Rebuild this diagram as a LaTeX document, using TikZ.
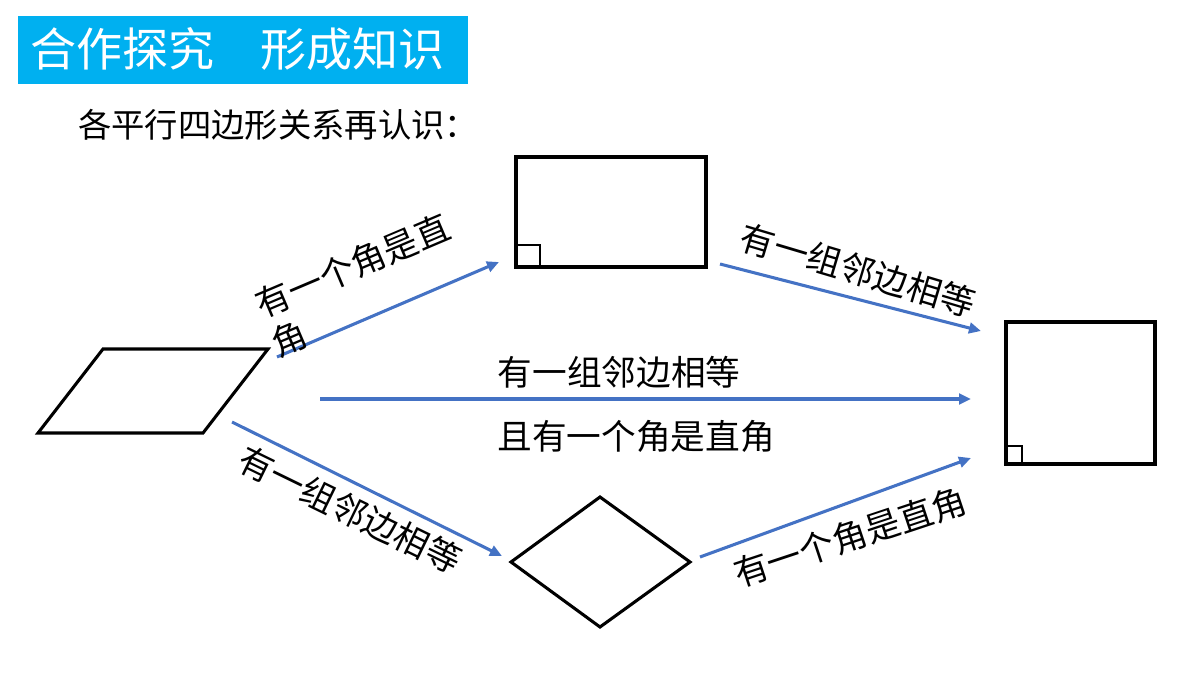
\documentclass[tikz,border=0pt]{standalone}
\usepackage{fontspec}
\setmainfont{Noto Sans CJK SC}
\usetikzlibrary{arrows.meta}
\definecolor{titleblue}{HTML}{00B0F0}
\definecolor{arrowblue}{HTML}{4472C4}
\begin{document}
\begin{tikzpicture}[x=0.75pt,y=-0.75pt,
  figthick/.style={draw=black,line width=3pt},
  figmid/.style={draw=black,line width=2.3pt,line join=miter},
  rmarkthin/.style={draw=black,line width=1.1pt},
  rmarkthick/.style={draw=black,line width=2pt},
  flow/.style={draw=arrowblue,line width=2.3pt,-{Triangle[length=9pt,width=8pt]}},
  lbl/.style={inner sep=0pt,font=\fontsize{26}{31.5}\selectfont}]
\useasboundingbox (0,0) rectangle (1200,675);
% title
\fill[titleblue] (18,16) rectangle (468,84);
\node[anchor=west,inner sep=0pt,text=white,font=\fontsize{34.5}{40}\selectfont] (title) at (30,49) {合作探究　形成知识};
\node[anchor=west,inner sep=0pt,font=\fontsize{25}{30}\selectfont] (sub) at (78,125) {各平行四边形关系再认识：};
% shapes
\draw[figmid] (38,433) -- (103,349) -- (268,349) -- (203,433) -- cycle;
\draw[figthick] (516,157) rectangle (706,267);
\draw[rmarkthin] (517,245) -- (540,245) -- (540,267);
\draw[figthick] (1006,322) rectangle (1155,464);
\draw[rmarkthick] (1007,446) -- (1022,446) -- (1022,464);
\draw[figmid] (511,562) -- (600,497) -- (690,562) -- (600,627) -- cycle;
% arrow endpoints
\coordinate (a1s) at (277,357); \coordinate (a1e) at (499,262);
\coordinate (a2s) at (720,264); \coordinate (a2e) at (981,331);
\coordinate (a3s) at (320,399); \coordinate (a3e) at (971,399);
\coordinate (a4s) at (232,422); \coordinate (a4e) at (502,556);
\coordinate (a5s) at (700,557); \coordinate (a5e) at (971,458);
\draw[flow] (a1s) -- (a1e);
\draw[flow] (a2s) -- (a2e);
\draw[flow] (a3s) -- (a3e);
\draw[flow] (a4s) -- (a4e);
\draw[flow] (a5s) -- (a5e);
% labels
\node[lbl,rotate=23,align=left] (l1) at (361,285) {有一个角是直\\角};
\node[lbl,rotate=-16.6] (l2) at (858,270) {有一组邻边相等};
\node[lbl] (l3a) at (619,372) {有一组邻边相等};
\node[lbl] (l3b) at (636,436) {且有一个角是直角};
\node[lbl,rotate=-26] (l4) at (350,510) {有一组邻边相等};
\node[lbl,rotate=18.4] (l5) at (850,537) {有一个角是直角};
\end{tikzpicture}
\end{document}
